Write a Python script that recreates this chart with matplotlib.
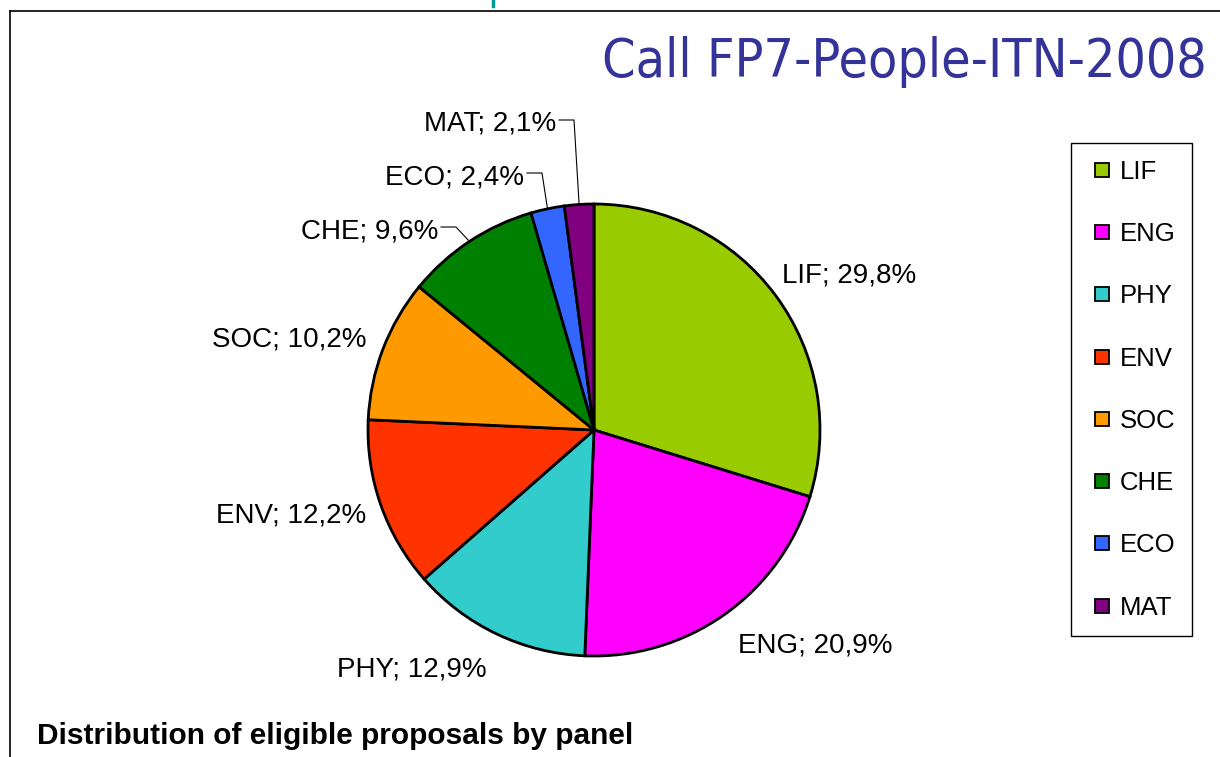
import numpy as np
import matplotlib
matplotlib.use("Agg")
import matplotlib.pyplot as plt
from matplotlib.lines import Line2D

# data
panels = ["LIF", "ENG", "PHY", "ENV", "SOC", "CHE", "ECO", "MAT"]
shares = [29.8, 20.9, 12.9, 12.2, 10.2, 9.6, 2.4, 2.1]
colors = ["#99CC00", "#FF00FF", "#33CCCC", "#FF3300", "#FF9900", "#008000", "#3366FF", "#800080"]
labels = [f"{p}; {s:.1f}%".replace(".", ",") for p, s in zip(panels, shares)]

# layout (pixels, measured from the top-left corner)
W, H = 1220, 757
CX, CY, R = 594, 430, 226
label_pos = [(849, 282, "center"), (815, 652, "center"), (412, 677, "center"),
             (291, 523, "center"), (289, 347, "center"), (438, 238, "right"),
             (524, 184, "right"), (556, 131, "right")]
has_leader = [False, False, False, False, False, True, True, True]

def fy(y):
    return H - y

fig = plt.figure(figsize=(W / 100, H / 100), dpi=100)
ax = fig.add_axes([0, 0, 1, 1])

wedges, _ = ax.pie(shares, colors=colors, startangle=90, counterclock=False,
                   center=(CX, fy(CY)), radius=R, frame=True,
                   wedgeprops=dict(edgecolor="black", linewidth=2.0))
ax.set_xlim(0, W)
ax.set_ylim(0, H)
ax.set_aspect("equal")
ax.axis("off")

lab_font = dict(family="Liberation Sans", fontsize=20, color="black")
for w, txt, (x, y, ha), lead in zip(wedges, labels, label_pos, has_leader):
    ax.text(x, fy(y), txt, ha=ha, va="baseline", **lab_font)
    if lead:
        th = np.deg2rad((w.theta1 + w.theta2) / 2)
        px, py = CX + R * np.cos(th), fy(CY) + R * np.sin(th)
        ly = fy(y - 11)
        ax.plot([x + 3, x + 18, px], [ly, ly, py], color="black", lw=0.8)

# legend
handles = [Line2D([], [], ls="none", marker="s", markersize=10.5, markerfacecolor=c,
                  markeredgecolor="black", markeredgewidth=1.3) for c in colors]
leg = fig.legend(handles, panels, loc="upper left",
                 bbox_to_anchor=(1071 / W, 1 - 143 / H), bbox_transform=fig.transFigure,
                 borderaxespad=0, prop=dict(family="Liberation Sans", size=18.5),
                 labelspacing=1.49, borderpad=0.65, handlelength=1.1, handletextpad=0.15,
                 fancybox=False, edgecolor="black", framealpha=1)
leg.get_frame().set_linewidth(1.0)

# titles
fig.text(1207 / W, 1 - 77 / H, "Call FP7-People-ITN-2008", ha="right", va="baseline",
         color="#333399", fontsize=38.4, family="DejaVu Sans", stretch="condensed")
fig.text(37 / W, 1 - 744 / H, "Distribution of eligible proposals by panel",
         ha="left", va="baseline", fontsize=21.5, fontweight="bold", family="Liberation Sans")

# slide frame
fig.add_artist(Line2D([10 / W, 10 / W], [0, 1 - 11 / H], transform=fig.transFigure,
                      color="black", lw=1.2))
fig.add_artist(Line2D([10 / W, 1], [1 - 11 / H, 1 - 11 / H], transform=fig.transFigure,
                      color="black", lw=1.2))
fig.add_artist(Line2D([493 / W, 493 / W], [1, 1 - 6 / H], transform=fig.transFigure,
                      color="#009999", lw=2.5))

fig.savefig("out.png", dpi=100, facecolor="white")
